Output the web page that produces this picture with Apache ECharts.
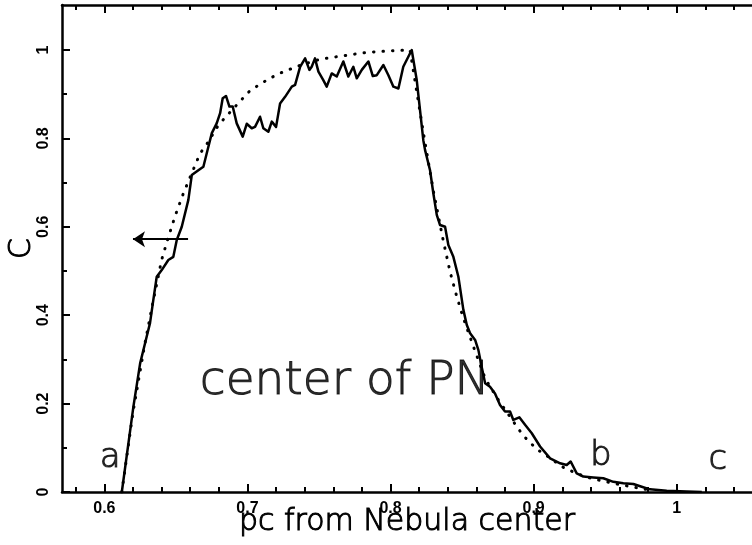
<!DOCTYPE html>
<html>
<head>
<meta charset="utf-8">
<script src="https://cdn.jsdelivr.net/npm/echarts@6/dist/echarts.min.js"></script>
<style>
  html, body { margin: 0; padding: 0; background: #fff; }
  #chart { width: 752px; height: 545px; }
</style>
</head>
<body>
<div id="chart"></div>
<script>
// 测得的轮廓 (实线)
var solidX = [0.6122, 0.6203, 0.625, 0.6284, 0.6319, 0.6342, 0.6366, 0.6401, 0.6447, 0.6482,
  0.6506, 0.6541, 0.6587, 0.6611, 0.6657, 0.6692, 0.6727, 0.6751, 0.6785, 0.6809,
  0.6827, 0.6850, 0.6874, 0.6897, 0.6925, 0.6967, 0.6995, 0.7030, 0.7053, 0.7088,
  0.7111, 0.7146, 0.7170, 0.7200, 0.7228, 0.7263, 0.7310, 0.7333, 0.7368, 0.7403,
  0.7433, 0.7449, 0.7472, 0.7496, 0.7530, 0.7554, 0.7589, 0.7624, 0.7670, 0.7705,
  0.7740, 0.7764, 0.7799, 0.7845, 0.7876, 0.7904, 0.7950, 0.7985, 0.8020, 0.8055,
  0.8089, 0.8148, 0.8183, 0.8229, 0.8241, 0.8276, 0.8299, 0.8323, 0.8346, 0.8381,
  0.8404, 0.8439, 0.8474, 0.8509, 0.8533, 0.8556, 0.8591, 0.8614, 0.8637, 0.8661,
  0.8695, 0.873, 0.8765, 0.88, 0.8835, 0.8858, 0.89, 0.894, 0.8987, 0.9045,
  0.9115, 0.9185, 0.9231, 0.9259, 0.9301, 0.9347, 0.9417, 0.9487, 0.9557, 0.9627,
  0.9697, 0.9755, 0.9813, 0.993, 1.007, 1.0175]
var solidY = [0, 0.193, 0.291, 0.336, 0.382, 0.434, 0.487, 0.502, 0.525, 0.532,
  0.570, 0.600, 0.661, 0.717, 0.728, 0.736, 0.781, 0.812, 0.834, 0.857,
  0.891, 0.896, 0.872, 0.872, 0.834, 0.804, 0.833, 0.823, 0.826, 0.849,
  0.823, 0.815, 0.838, 0.826, 0.879, 0.894, 0.917, 0.921, 0.962, 0.981,
  0.955, 0.962, 0.981, 0.951, 0.932, 0.917, 0.947, 0.940, 0.974, 0.940,
  0.962, 0.936, 0.955, 0.974, 0.941, 0.943, 0.966, 0.943, 0.917, 0.913,
  0.962, 1.000, 0.932, 0.796, 0.774, 0.728, 0.676, 0.627, 0.604, 0.600,
  0.559, 0.532, 0.487, 0.412, 0.378, 0.359, 0.344, 0.321, 0.283, 0.246,
  0.238, 0.223, 0.197, 0.182, 0.182, 0.163, 0.169, 0.152, 0.133, 0.103,
  0.076, 0.065, 0.061, 0.069, 0.042, 0.035, 0.033, 0.031, 0.023, 0.020,
  0.018, 0.012, 0.006, 0.003, 0.001, 0]

// 拟合曲线 (点线)
var fitX = [0.6122, 0.620, 0.628, 0.634, 0.6401, 0.6447, 0.6494, 0.6548, 0.6609, 0.6669,
  0.6716, 0.6797, 0.6855, 0.696, 0.7018, 0.7081, 0.7146, 0.7216, 0.7286, 0.7356,
  0.7507, 0.767, 0.7822, 0.7985, 0.8136, 0.8236, 0.8300, 0.8365, 0.8416, 0.8456,
  0.8502, 0.8579, 0.8661, 0.8750, 0.8835, 0.8924, 0.898, 0.904, 0.911, 0.920,
  0.930, 0.940, 0.955, 0.970, 0.980]
var fitY = [0, 0.18, 0.33, 0.43, 0.526, 0.576, 0.624, 0.672, 0.72, 0.766,
  0.787, 0.830, 0.851, 0.888, 0.908, 0.921, 0.934, 0.946, 0.955, 0.964,
  0.979, 0.987, 0.994, 0.998, 1.0, 0.80, 0.68, 0.574, 0.498, 0.450,
  0.400, 0.329, 0.257, 0.210, 0.170, 0.129, 0.110, 0.093, 0.078, 0.057,
  0.042, 0.031, 0.02, 0.011, 0.005]

// 刻度
var xMajor = [0.6, 0.7, 0.8, 0.9, 1.0]
var xMinor = [0.58, 0.62, 0.64, 0.66, 0.68, 0.72, 0.74, 0.76, 0.78, 0.82, 0.84, 0.86, 0.88,
  0.92, 0.94, 0.96, 0.98, 1.02, 1.04]
var yMajor = [0, 0.2, 0.4, 0.6, 0.8, 1.0]
var yMinor = [0.1, 0.3, 0.5, 0.7, 0.9]

// 箭头 与 文字标注
var arrowFrom = [0.6585, 0.572]
var arrowTo = [0.620, 0.572]
var notes = [
  { name: 'a', value: [0.604, 0.077], size: 34 },
  { name: 'b', value: [0.947, 0.081], size: 34 },
  { name: 'c', value: [1.0288, 0.072], size: 34 },
  { name: 'center of PN', value: [0.768, 0.249], size: 47 }
]

var xMin = 0.5704, xMax = 1.0526
var yMin = 0, yMax = 1.1018

function pairs(xs, ys) {
  var out = []
  for (var i = 0; i < xs.length; i++) out.push([xs[i], ys[i]])
  return out
}

var chart = echarts.init(document.getElementById('chart'), null, { renderer: 'canvas' })

var lineW = 2.5
var thinText = { fontFamily: 'DejaVu Sans', fontWeight: 200, color: '#000',
  textBorderColor: '#000', textBorderWidth: 1 }

function xAxisDef(pos, ticks, len, showLine, showLabel) {
  return {
    type: 'value', position: pos, min: xMin, max: xMax,
    splitLine: { show: false },
    axisLine: { show: showLine, onZero: false, lineStyle: { color: '#000', width: lineW } },
    axisTick: { show: true, inside: true, length: len, customValues: ticks,
      lineStyle: { color: '#000', width: 2 } },
    axisLabel: { show: showLabel, customValues: ticks, margin: 9,
      fontFamily: 'Liberation Sans', fontWeight: 'bold', fontSize: 16, color: '#000',
      formatter: function (v) { return String(+v.toFixed(2)) } }
  }
}
function yAxisDef(ticks, len, showLine, showLabel) {
  return {
    type: 'value', position: 'left', min: yMin, max: yMax,
    splitLine: { show: false },
    axisLine: { show: showLine, onZero: false, lineStyle: { color: '#000', width: lineW } },
    axisTick: { show: true, inside: true, length: len, customValues: ticks,
      lineStyle: { color: '#000', width: 2 } },
    axisLabel: { show: showLabel, customValues: ticks, margin: 10, rotate: 90,
      fontFamily: 'Liberation Sans', fontWeight: 'bold', fontSize: 16, color: '#000',
      formatter: function (v) { return String(+v.toFixed(2)) } }
  }
}

var xMain = xAxisDef('bottom', xMajor, 8, true, true)
xMain.name = 'pc from Nebula center'
xMain.nameLocation = 'middle'
xMain.nameGap = 15
xMain.nameMoveOverlap = false
xMain.nameTextStyle = Object.assign({ fontSize: 30 }, thinText)

var yMain = yAxisDef(yMajor, 8, true, true)
yMain.name = 'C'
yMain.nameLocation = 'middle'
yMain.nameGap = 25
yMain.nameMoveOverlap = false
yMain.nameTextStyle = Object.assign({ fontSize: 30 }, thinText)

option = {
  animation: false,
  backgroundColor: '#fff',
  grid: { left: 62, right: 0, top: 5, bottom: 53, containLabel: false, outerBoundsMode: 'none' },
  xAxis: [
    xMain,
    xAxisDef('bottom', xMinor, 5, false, false),
    xAxisDef('top', xMajor, 8, true, false),
    xAxisDef('top', xMinor, 5, false, false)
  ],
  yAxis: [
    yMain,
    yAxisDef(yMinor, 5, false, false)
  ],
  series: [
    {
      type: 'line',
      data: pairs(fitX, fitY),
      showSymbol: false, symbol: 'none',
      lineStyle: { color: '#000', width: 3, type: [0.5, 9], cap: 'round' },
      z: 2
    },
    {
      type: 'line',
      data: pairs(solidX, solidY),
      showSymbol: false, symbol: 'none',
      lineStyle: { color: '#000', width: 2.5, join: 'round' },
      z: 3,
      markLine: {
        silent: true,
        symbol: ['none', 'arrow'],
        symbolSize: 12,
        label: { show: false },
        lineStyle: { color: '#000', width: 2, type: 'solid' },
        data: [[{ coord: arrowFrom }, { coord: arrowTo }]]
      }
    },
    {
      type: 'scatter',
      symbolSize: 0,
      silent: true,
      z: 4,
      data: notes.map(function (n) {
        return {
          name: n.name, value: n.value,
          label: Object.assign({ show: true, position: 'inside', formatter: '{b}',
            fontSize: n.size }, thinText)
        }
      })
    }
  ]
}

chart.setOption(option)
</script>
</body>
</html>
